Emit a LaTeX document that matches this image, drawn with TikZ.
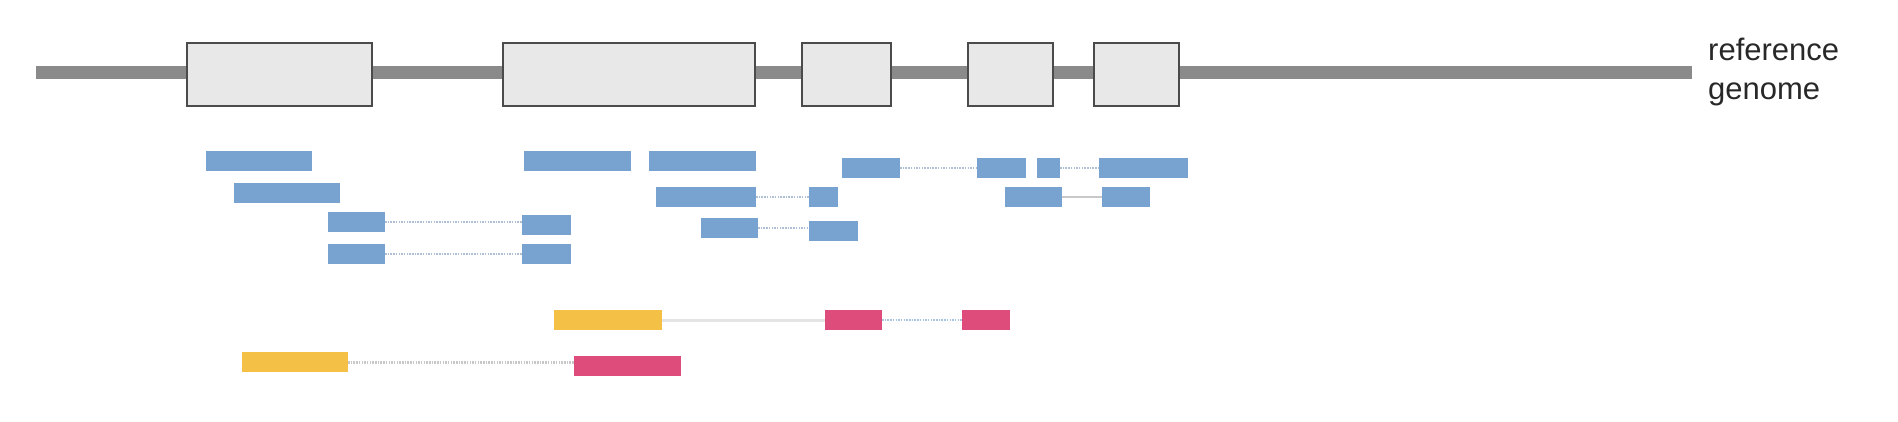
\documentclass[tikz,border=0pt]{standalone}
\usepackage{fontspec}
\setmainfont{Liberation Sans}
\definecolor{genomegray}{RGB}{138,138,138}
\definecolor{exonfill}{RGB}{232,232,232}
\definecolor{exondraw}{RGB}{75,75,75}
\definecolor{readblue}{RGB}{120,162,207}
\definecolor{readyellow}{RGB}{245,192,70}
\definecolor{readpink}{RGB}{221,76,122}
\definecolor{linkblue}{RGB}{175,192,214}
\definecolor{linkgray}{RGB}{200,200,200}
\definecolor{linklight}{RGB}{228,228,228}
\definecolor{linkpinkblue}{RGB}{168,196,228}
\definecolor{labelgray}{RGB}{40,40,40}
\begin{document}
\begin{tikzpicture}[x=1pt,y=-1pt,
  exonbox/.style={draw=exondraw, fill=exonfill, line width=2pt, inner sep=0pt, outer sep=0pt, anchor=north west, minimum height=63pt},
  readbox/.style={inner sep=0pt, outer sep=0pt, anchor=north west, minimum height=20pt, draw=none},
  blueread/.style={readbox, fill=readblue},
  yellowread/.style={readbox, fill=readyellow},
  pinkread/.style={readbox, fill=readpink},
  dotlink/.style={draw=linkblue, line width=2.2pt, dash pattern=on 1.5pt off 1.2pt},
  solidlink/.style={draw=linkgray, line width=2.2pt},
  lightlink/.style={draw=linklight, line width=3pt},
  graydot/.style={draw=linkgray, line width=3pt, dash pattern=on 1.5pt off 1.2pt},
  pinkdot/.style={draw=linkpinkblue, line width=2.5pt, dash pattern=on 1.5pt off 1.2pt},
  label/.style={font=\fontsize{31}{31}\selectfont, inner sep=0pt, anchor=base west, text=labelgray}
]
\useasboundingbox (0,0) rectangle (1898,422);
% genome line
\coordinate (gL) at (36,73);
\coordinate (gR) at (1692,73);
\draw[genomegray, line width=13pt] (gL) -- (gR);
% exons
\node[exonbox, minimum width=185pt] (e1) at (187,43) {};
\node[exonbox, minimum width=252pt] (e2) at (503,43) {};
\node[exonbox, minimum width=89pt] (e3) at (802,43) {};
\node[exonbox, minimum width=85pt] (e4) at (968,43) {};
\node[exonbox, minimum width=85pt] (e5) at (1094,43) {};
% label
\node[label] (t1) at (1708,61) {reference};
\node[label] (t2) at (1708,100) {genome};
% blue reads
\node[blueread, minimum width=106pt] (r1) at (206,151) {};
\node[blueread, minimum width=106pt] (r2) at (234,183) {};
\node[blueread, minimum width=57pt] (r3a) at (328,212) {};
\node[blueread, minimum width=49pt] (r3b) at (522,215) {};
\node[blueread, minimum width=57pt] (r4a) at (328,244) {};
\node[blueread, minimum width=49pt] (r4b) at (522,244) {};
\node[blueread, minimum width=107pt] (r5) at (524,151) {};
\node[blueread, minimum width=107pt] (r6) at (649,151) {};
\node[blueread, minimum width=58pt] (r7a) at (842,158) {};
\node[blueread, minimum width=49pt] (r7b) at (977,158) {};
\node[blueread, minimum width=23pt] (r7c) at (1037,158) {};
\node[blueread, minimum width=89pt] (r7d) at (1099,158) {};
\node[blueread, minimum width=100pt] (r8a) at (656,187) {};
\node[blueread, minimum width=29pt] (r8b) at (809,187) {};
\node[blueread, minimum width=57pt] (r9a) at (701,218) {};
\node[blueread, minimum width=49pt] (r9b) at (809,221) {};
\node[blueread, minimum width=57pt] (r10a) at (1005,187) {};
\node[blueread, minimum width=48pt] (r10b) at (1102,187) {};
% yellow / pink reads
\node[yellowread, minimum width=108pt] (y1) at (554,310) {};
\node[pinkread, minimum width=57pt] (p1) at (825,310) {};
\node[pinkread, minimum width=48pt] (p2) at (962,310) {};
\node[yellowread, minimum width=106pt] (y2) at (242,352) {};
\node[pinkread, minimum width=107pt] (p3) at (574,356) {};
% links
\draw[dotlink] (r3a.east) -- (r3a.east -| r3b.west);
\draw[dotlink] (r4a.east) -- (r4b.west);
\draw[dotlink] (r7a.east) -- (r7b.west);
\draw[dotlink] (r7c.east) -- (r7d.west);
\draw[dotlink] (r8a.east) -- (r8b.west);
\draw[dotlink] (r9a.east) -- (r9a.east -| r9b.west);
\draw[solidlink] (r10a.east) -- (r10b.west);
\draw[lightlink] (y1.east) -- (p1.west);
\draw[pinkdot] (p1.east) -- (p2.west);
\draw[graydot] (y2.east) -- (y2.east -| p3.west);
\end{tikzpicture}
\end{document}
